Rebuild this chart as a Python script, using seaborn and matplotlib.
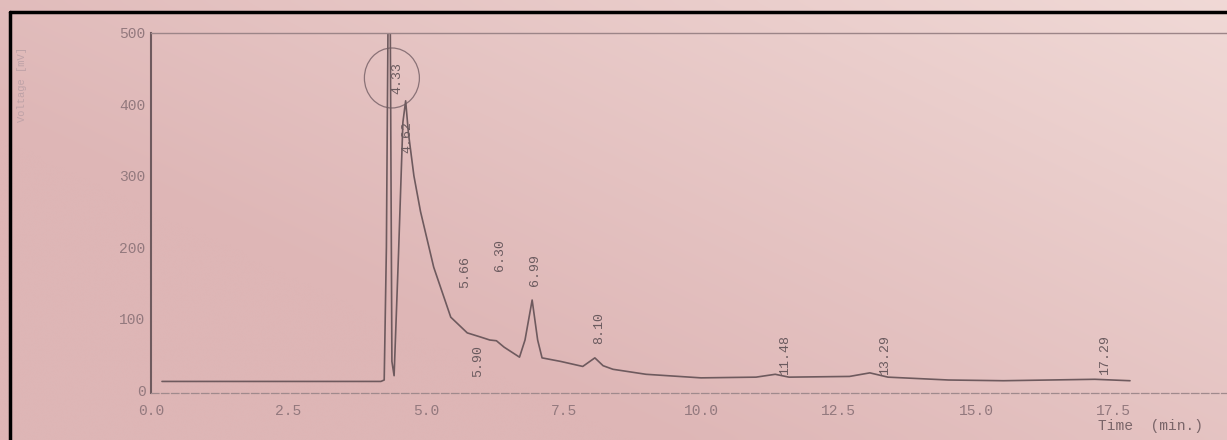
import numpy as np
import matplotlib
matplotlib.use("Agg")
import matplotlib.pyplot as plt
from matplotlib.lines import Line2D
from matplotlib.patches import Ellipse
import pandas as pd
import seaborn as sns

# chromatogram trace (time in min, signal in mV)
time_min = [0.2, 1.5, 2.7, 3.6, 4.18, 4.24, 4.28, 4.31, 4.35, 4.38, 4.42,
            4.50, 4.58, 4.63, 4.68, 4.78, 4.90, 5.14, 5.45, 5.75, 6.00,
            6.16, 6.28, 6.42, 6.70, 6.80, 6.93, 7.03, 7.11, 7.45, 7.85,
            8.07, 8.22, 8.40, 9.0, 10.0, 11.0, 11.35, 11.6, 12.7, 13.07,
            13.4, 14.5, 15.5, 17.16, 17.8]
signal_mv = [12, 12, 12, 12, 12, 14, 200, 520, 520, 40, 20,
             190, 375, 405, 360, 300, 250, 172, 102, 80, 74,
             70, 69, 60, 46, 70, 126, 70, 45, 40, 33,
             45, 34, 29, 22, 17, 18, 22, 18, 19, 24,
             18, 14, 13, 15, 13]

# retention time labels printed above the peaks
peak_labels = ["4.33", "4.62", "5.66", "5.90", "6.30", "6.99", "8.10",
               "11.48", "13.29", "17.29"]
label_heights = [437, 355, 165, 40, 189, 168, 87, 49, 49, 49]
label_shift = [0.15, 0.05, 0.05, 0.05, 0.05, 0.0, 0.05, 0.05, 0.05, 0.05]

y_ticks = [0, 100, 200, 300, 400, 500]
x_ticks = [0.0, 2.5, 5.0, 7.5, 10.0, 12.5, 15.0, 17.5, 20.0]

line_col = "#6e5a5e"
text_col = "#93797e"
mono = ["Liberation Mono", "DejaVu Sans Mono"]

sns.set_theme(style="white")
plt.rcParams["font.family"] = mono

fig = plt.figure(figsize=(12.27, 4.40), dpi=100)

# paper-like pink background with a lighter upper right
bg = fig.add_axes([0, 0, 1, 1], zorder=-10)
gx, gy = np.meshgrid(np.linspace(0, 1, 200), np.linspace(0, 1, 80))
w = np.clip(0.6 * gx + 0.45 * (1 - gy) - 0.32, 0, 1)[..., None]
dark = np.array([222, 182, 182]) / 255
light = np.array([247, 230, 226]) / 255
bg.imshow(dark * (1 - w) + light * w, aspect="auto", extent=[0, 1, 0, 1],
          interpolation="bicubic")
bg.set_axis_off()
fig.patch.set_facecolor("#e3c3c0")

ax = fig.add_axes([151 / 1227, 1 - 393 / 440, 1100 / 1227, 360 / 440])
ax.patch.set_alpha(0)

df = pd.DataFrame({"time": time_min, "signal": signal_mv})
sns.lineplot(data=df, x="time", y="signal", sort=False, estimator=None,
             color=line_col, linewidth=1.2, ax=ax)

ax.set_xlim(0, 20)
ax.set_ylim(-4.2, 500)
ax.set_xticks(x_ticks)
ax.set_xticklabels([f"{t:.1f}" for t in x_ticks])
ax.set_yticks(y_ticks)
ax.set_yticklabels([str(v) for v in y_ticks])
ax.tick_params(axis="x", direction="in", length=3, color=line_col,
               labelsize=10.5, labelcolor=text_col, pad=8)
ax.tick_params(axis="y", length=0, labelsize=10.5, labelcolor=text_col,
               pad=4)
ax.set_xlabel("")
ax.set_ylabel("")

ax.spines["right"].set_visible(False)
ax.spines["left"].set_color(line_col)
ax.spines["left"].set_linewidth(1.5)
ax.spines["top"].set_color("#9c8588")
ax.spines["top"].set_linewidth(1.0)
ax.spines["bottom"].set_color("#a08a8d")
ax.spines["bottom"].set_linewidth(0.9)
ax.spines["bottom"].set_linestyle((0, (6, 2)))

for lab, h, dx in zip(peak_labels, label_heights, label_shift):
    ax.text(float(lab) + dx, h, lab, rotation=90, ha="center",
            va="center", fontsize=9.5, color="#6a5a5e")

ax.add_patch(Ellipse((4.38, 437), 1.0, 84, fill=False,
                     edgecolor="#8a7277", linewidth=0.9))

fig.text(0.018, 0.807, "Voltage [mV]", rotation=90, ha="center",
         va="center", fontsize=7.5, color="#bea2a7")
fig.text(1098 / 1227, 1 - 426 / 440, "Time  (min.)", ha="left",
         va="center", fontsize=10.5, color="#7a6569")

# dark frame of the scanned page (top and left edges)
fig.add_artist(Line2D([10 / 1227, 1], [1 - 12 / 440, 1 - 12 / 440],
                      color="black", linewidth=2.5))
fig.add_artist(Line2D([10 / 1227, 10 / 1227], [0, 1 - 12 / 440],
                      color="black", linewidth=2.5))

fig.savefig("out.png", dpi=100)
